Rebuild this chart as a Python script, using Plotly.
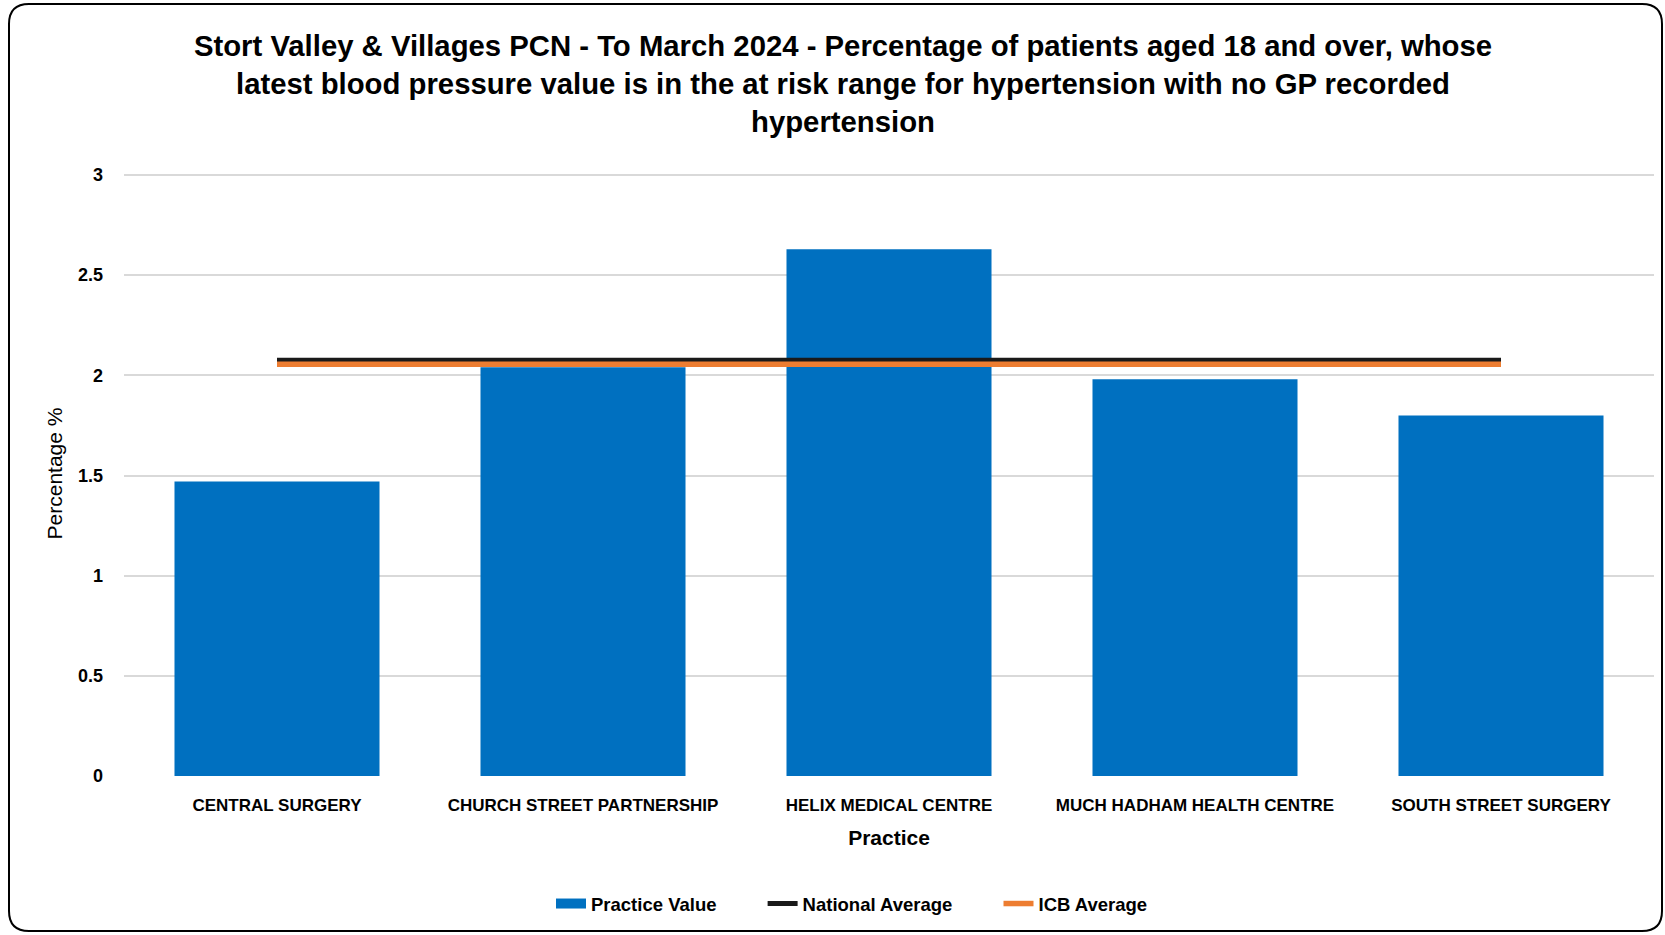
import plotly.graph_objects as go

# --- data ---
practices = ["CENTRAL SURGERY", "CHURCH STREET PARTNERSHIP", "HELIX MEDICAL CENTRE",
             "MUCH HADHAM HEALTH CENTRE", "SOUTH STREET SURGERY"]
practice_value = [1.47, 2.04, 2.63, 1.98, 1.80]
national_avg = [2.075] * len(practices)
icb_avg = [2.055] * len(practices)

title_text = ("Stort Valley & Villages PCN - To March 2024 - Percentage of patients aged 18 and over, whose<br>"
              "latest blood pressure value is in the at risk range for hypertension with no GP recorded<br>"
              "hypertension")

FONT = "Liberation Sans, Arial, sans-serif"
W, H = 1665, 935
L, R, T, B = 124, 11, 171, 159
PAD = "&nbsp;" * 8   # extra room between legend entries

fig = go.Figure()

fig.add_trace(go.Bar(
    x=practices, y=practice_value, name="Practice Value", showlegend=False,
    marker=dict(color="#0070C0", line=dict(width=0)),
))
# legend stand-in so the bar key is drawn as a wide block like the original
fig.add_trace(go.Scatter(
    x=[practices[0]], y=[None], name=f"<b>Practice Value</b>{PAD}", mode="lines",
    line=dict(color="#0070C0", width=10), hoverinfo="skip",
))
fig.add_trace(go.Scatter(
    x=practices, y=national_avg, name=f"<b>National Average</b>{PAD}", mode="lines",
    line=dict(color="#1a1a1a", width=5),
))
fig.add_trace(go.Scatter(
    x=practices, y=icb_avg, name="<b>ICB Average</b>", mode="lines",
    line=dict(color="#ED7D31", width=5.5),
))

# rounded border round the whole chart (pixel -> paper coords)
pw, ph = W - L - R, H - T - B
def px(x): return (x - L) / pw
def py(y): return (H - B - y) / ph
x0, x1, y0, y1, r = 9, 1662, 4, 931, 20
path = (f"M {px(x0 + r)},{py(y0)} L {px(x1 - r)},{py(y0)} "
        f"Q {px(x1)},{py(y0)} {px(x1)},{py(y0 + r)} L {px(x1)},{py(y1 - r)} "
        f"Q {px(x1)},{py(y1)} {px(x1 - r)},{py(y1)} L {px(x0 + r)},{py(y1)} "
        f"Q {px(x0)},{py(y1)} {px(x0)},{py(y1 - r)} L {px(x0)},{py(y0 + r)} "
        f"Q {px(x0)},{py(y0)} {px(x0 + r)},{py(y0)} Z")

fig.update_layout(
    width=W, height=H,
    template="plotly_white",
    paper_bgcolor="white", plot_bgcolor="white",
    margin=dict(l=L, r=R, t=T, b=B),
    font=dict(family=FONT, color="black"),
    title=dict(text=f"<b>{title_text}</b>", x=843 / W, xanchor="center", xref="container",
               y=1 - 56 / H, yanchor="middle",
               font=dict(size=29.3, family=FONT, color="black")),
    bargap=0.33,
    showlegend=True,
    legend=dict(orientation="h", x=px(852), xanchor="center", y=-(904 - (H - B)) / ph,
                yanchor="middle", font=dict(size=18.5, family=FONT),
                itemwidth=30, traceorder="normal"),
    shapes=[dict(type="path", path=path, xref="paper", yref="paper",
                 line=dict(color="black", width=2), layer="above")],
)

fig.update_xaxes(
    showgrid=False, showline=False, ticks="",
    tickfont=dict(size=17, family=FONT),
    ticklabelstandoff=17,
    title=dict(text="<b>Practice</b>", font=dict(size=21, family=FONT), standoff=16),
    tickprefix="<b>", ticksuffix="</b>",
)
fig.update_yaxes(
    range=[0, 3.02], dtick=0.5, showgrid=True, gridcolor="#D9D9D9", gridwidth=1.5,
    zeroline=False, showline=False,
    tickfont=dict(size=18, family=FONT), tickprefix="<b>", ticksuffix="</b>",
    ticklabelstandoff=20,
    title=dict(text="Percentage %", font=dict(size=21, family=FONT), standoff=9),
)

fig.write_html("out.html", config={"displayModeBar": False},
               post_script="document.body.style.margin='0px';")
